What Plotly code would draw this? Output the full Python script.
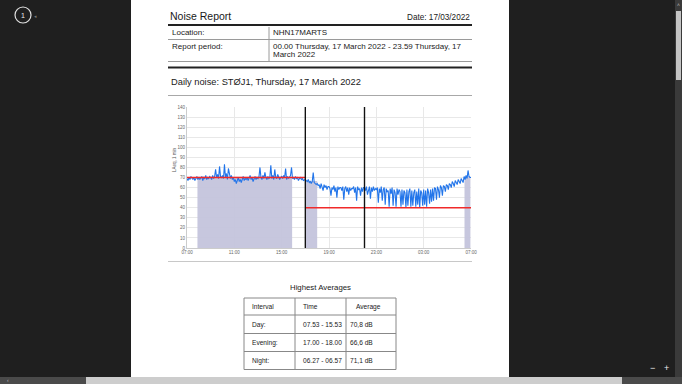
import pandas as pd
import plotly.graph_objects as go

# ---------------- data ----------------
noise_rows = [
    [69, 67, 70, 68, 71, 69, 68, 70, 67, 69, 71, 68],   # 07
    [70, 68, 69, 71, 67, 70, 69, 72, 68, 70, 69, 71],   # 08
    [70, 68, 72, 69, 71, 78, 70, 73, 69, 81, 71, 70],   # 09
    [72, 69, 83, 70, 74, 68, 79, 71, 69, 72, 68, 70],   # 10
    [66, 68, 64, 67, 70, 66, 68, 65, 69, 71, 67, 69],   # 11
    [68, 70, 67, 69, 72, 68, 70, 66, 69, 71, 68, 70],   # 12
    [69, 71, 80, 70, 68, 72, 69, 75, 70, 68, 71, 69],   # 13
    [70, 82, 69, 72, 68, 78, 70, 69, 73, 71, 68, 70],   # 14
    [71, 69, 72, 70, 79, 68, 71, 69, 70, 72, 80, 69],   # 15
    [70, 68, 71, 69, 70, 67, 69, 70, 68, 69, 67, 68],   # 16
    [68, 67, 66, 68, 65, 66, 64, 66, 75, 65, 64, 63],   # 17
    [64, 62, 63, 59, 64, 61, 57, 63, 60, 62, 58, 61],   # 18
    [61, 59, 52, 60, 58, 62, 56, 60, 50, 61, 58, 60],   # 19
    [60, 57, 61, 48, 59, 61, 56, 60, 53, 60, 57, 59],   # 20
    [59, 61, 55, 60, 47, 61, 58, 59, 52, 60, 56, 60],   # 21
    [60, 57, 61, 53, 59, 61, 49, 60, 56, 61, 57, 59],   # 22
    [58, 60, 45, 59, 55, 61, 47, 58, 60, 43, 59, 56],   # 23
    [57, 41, 59, 54, 60, 42, 58, 55, 41, 59, 53, 58],   # 00
    [56, 41, 58, 43, 57, 55, 40, 58, 42, 56, 59, 41],   # 01
    [57, 42, 55, 58, 41, 56, 43, 59, 40, 57, 55, 42],   # 02
    [58, 43, 57, 41, 59, 55, 44, 58, 46, 59, 47, 60],   # 03
    [59, 48, 61, 58, 50, 62, 60, 52, 62, 61, 56, 63],   # 04
    [62, 58, 64, 63, 60, 66, 64, 61, 67, 65, 63, 68],   # 05
    [66, 64, 69, 67, 65, 71, 68, 72, 69, 77, 71, 70],   # 06
    [70],                                               # 07 next day
]
noise_values = [v for row in noise_rows for v in row]
noise_times = pd.date_range("2022-03-17 07:00", periods=len(noise_values), freq="5min")

limit_periods = [("2022-03-17 07:00", "2022-03-17 17:00", 70),
                 ("2022-03-17 17:00", "2022-03-17 22:00", 40),
                 ("2022-03-17 22:00", "2022-03-18 07:00", 40)]
period_bounds = ["2022-03-17 17:00", "2022-03-17 22:00"]

interval_names = ["Day:", "Evening:", "Night:"]
interval_times = ["07.53 - 15.53", "17.00 - 18.00", "06.27 - 06.57"]
interval_avg_text = ["70,8 dB", "66,6 dB", "71,1 dB"]
interval_avg = [70.8, 66.6, 71.1]
interval_start = ["2022-03-17 07:53", "2022-03-17 17:00", "2022-03-18 06:27"]
interval_end = ["2022-03-17 15:53", "2022-03-17 18:00", "2022-03-18 06:57"]

y_ticks = list(range(0, 141, 10))

# ---------------- figure ----------------
W, H = 682, 384
def px(x): return x / W
def py(y): return 1 - y / H

fig = go.Figure()

for s, e, a in zip(interval_start, interval_end, interval_avg):
    fig.add_trace(go.Scatter(x=[s, e], y=[a, a], mode="none", fill="tozeroy",
                             fillcolor="rgba(196,196,220,0.95)", showlegend=False,
                             hoverinfo="skip"))

fig.add_trace(go.Scatter(x=noise_times, y=noise_values, mode="lines",
                         line=dict(color="#2275ea", width=1.1), showlegend=False))

for s, e, v in limit_periods:
    fig.add_trace(go.Scatter(x=[s, e], y=[v, v], mode="lines",
                             line=dict(color="#f02a2a", width=1.6), showlegend=False))

for b in period_bounds:
    fig.add_trace(go.Scatter(x=[b, b], y=[y_ticks[0], y_ticks[-1]], mode="lines",
                             line=dict(color="#111111", width=1.4), showlegend=False))

shapes = []
def rect(x0, y0, x1, y1, color, layer="below"):
    shapes.append(dict(type="rect", xref="paper", yref="paper",
                       x0=px(x0), x1=px(x1), y0=py(y1), y1=py(y0),
                       fillcolor=color, line=dict(width=0), layer=layer))
def hline(x0, x1, y, color, w):
    shapes.append(dict(type="line", xref="paper", yref="paper",
                       x0=px(x0), x1=px(x1), y0=py(y), y1=py(y),
                       line=dict(color=color, width=w)))
def vline(x, y0, y1, color, w):
    shapes.append(dict(type="line", xref="paper", yref="paper",
                       x0=px(x), x1=px(x), y0=py(y0), y1=py(y1),
                       line=dict(color=color, width=w)))

# page
rect(131, 0, 509, 384, "white")
# scrollbars
rect(675, 0, 682, 377, "#3a3a3a", "above")
rect(676, 11, 681, 80, "#c4c4c4", "above")
rect(0, 377, 682, 384, "#4a4a4a", "above")
rect(86, 377, 622, 384, "#cdcdcd", "above")
# header lines
hline(168, 472, 25, "#222222", 2)
hline(168, 472, 39.5, "#9a9a9a", 1)
hline(168, 472, 61.5, "#9a9a9a", 1)
vline(269, 27, 62, "#9a9a9a", 1)
hline(168, 472, 67.5, "#222222", 2)
hline(168, 472, 95.5, "#a8a8a8", 1)
hline(168, 472, 261.5, "#c8c8c8", 1)
# averages table
tx = [244, 295, 346, 396]
ty = [298, 315, 333.5, 351.5, 369.5]
for y in ty:
    hline(tx[0], tx[-1], y, "#888888", 1)
for x in tx:
    vline(x, ty[0], ty[-1], "#888888", 1)
# page-number circle
shapes.append(dict(type="circle", xref="paper", yref="paper",
                   x0=px(15), x1=px(31), y0=py(23), y1=py(7),
                   line=dict(color="#e0e0e0", width=1.2)))

F = "Liberation Sans, Arial, sans-serif"
ann = []
def text(x, y, t, size, color="#1a1a1a", xanchor="left", textangle=0):
    ann.append(dict(x=px(x), y=py(y), xref="paper", yref="paper", text=t,
                    showarrow=False, xanchor=xanchor, yanchor="middle",
                    font=dict(family=F, size=size, color=color), textangle=textangle))

text(168, 16, "Noise Report", 10.5)
text(472, 17, "Date: 17/03/2022", 8.2, xanchor="right")
text(169.5, 32.5, "Location:", 8)
text(270.5, 32.5, "NHN17MARTS", 8)
text(169.5, 46.5, "Report period:", 8)
text(270.5, 46.5, "00.00 Thursday, 17 March 2022 - 23.59 Thursday, 17", 8)
text(270.5, 55, "March 2022", 8)
text(168.5, 82, "Daily noise: STØJ1, Thursday, 17 March 2022", 9.3)
text(174, 160, "LAeq, 1 min", 4.5, color="#555555", xanchor="center", textangle=-90)
text(320, 287.5, "Highest Averages", 7.8, xanchor="center")
row_y = [306.5, 324.5, 342.5, 360.5]
text(250, row_y[0], "Interval", 6.6)
text(301, row_y[0], "Time", 6.6)
text(354, row_y[0], "Average", 6.6)
for i in range(3):
    text(250, row_y[i + 1], interval_names[i], 6.6)
    text(301, row_y[i + 1], interval_times[i], 6.6)
    text(348, row_y[i + 1], interval_avg_text[i], 6.6)
# viewer UI
text(23, 15.5, "1", 7, color="#eeeeee", xanchor="center")
text(35, 15.5, "◂", 5, color="#777777", xanchor="center")
text(652, 368, "−", 9, color="#eeeeee", xanchor="center")
text(666, 368, "+", 9, color="#eeeeee", xanchor="center")
text(8, 380, "‹", 5, color="#bbbbbb", xanchor="center")
text(667, 380, "›", 5, color="#444444", xanchor="center")
text(678.5, 5, "˄", 5, color="#bbbbbb", xanchor="center")

fig.update_layout(
    width=W, height=H, margin=dict(l=0, r=0, t=0, b=0, pad=0, autoexpand=False),
    paper_bgcolor="#1f1f1f", plot_bgcolor="white",
    shapes=shapes, annotations=ann, showlegend=False,
    xaxis=dict(domain=[px(187), px(471)], range=["2022-03-17 07:00", "2022-03-18 07:00"],
               type="date", tick0="2022-03-17 07:00", dtick=4 * 3600 * 1000,
               tickformat="%H:%M", showgrid=True, gridcolor="#e8e8e8", gridwidth=1,
               showline=True, linecolor="#cccccc", linewidth=1, zeroline=False,
               automargin=False,
               ticks="", tickfont=dict(family=F, size=4.5, color="#666666")),
    yaxis=dict(domain=[py(248), py(107)], range=[0, 140], tickvals=y_ticks,
               showgrid=True, gridcolor="#e8e8e8", gridwidth=1,
               showline=True, linecolor="#cccccc", linewidth=1, zeroline=False,
               automargin=False,
               ticks="", tickfont=dict(family=F, size=4.5, color="#666666")),
)

fig.write_html("out.html", config={"displayModeBar": False},
               post_script="document.body.style.margin='0';document.body.style.overflow='hidden';")
